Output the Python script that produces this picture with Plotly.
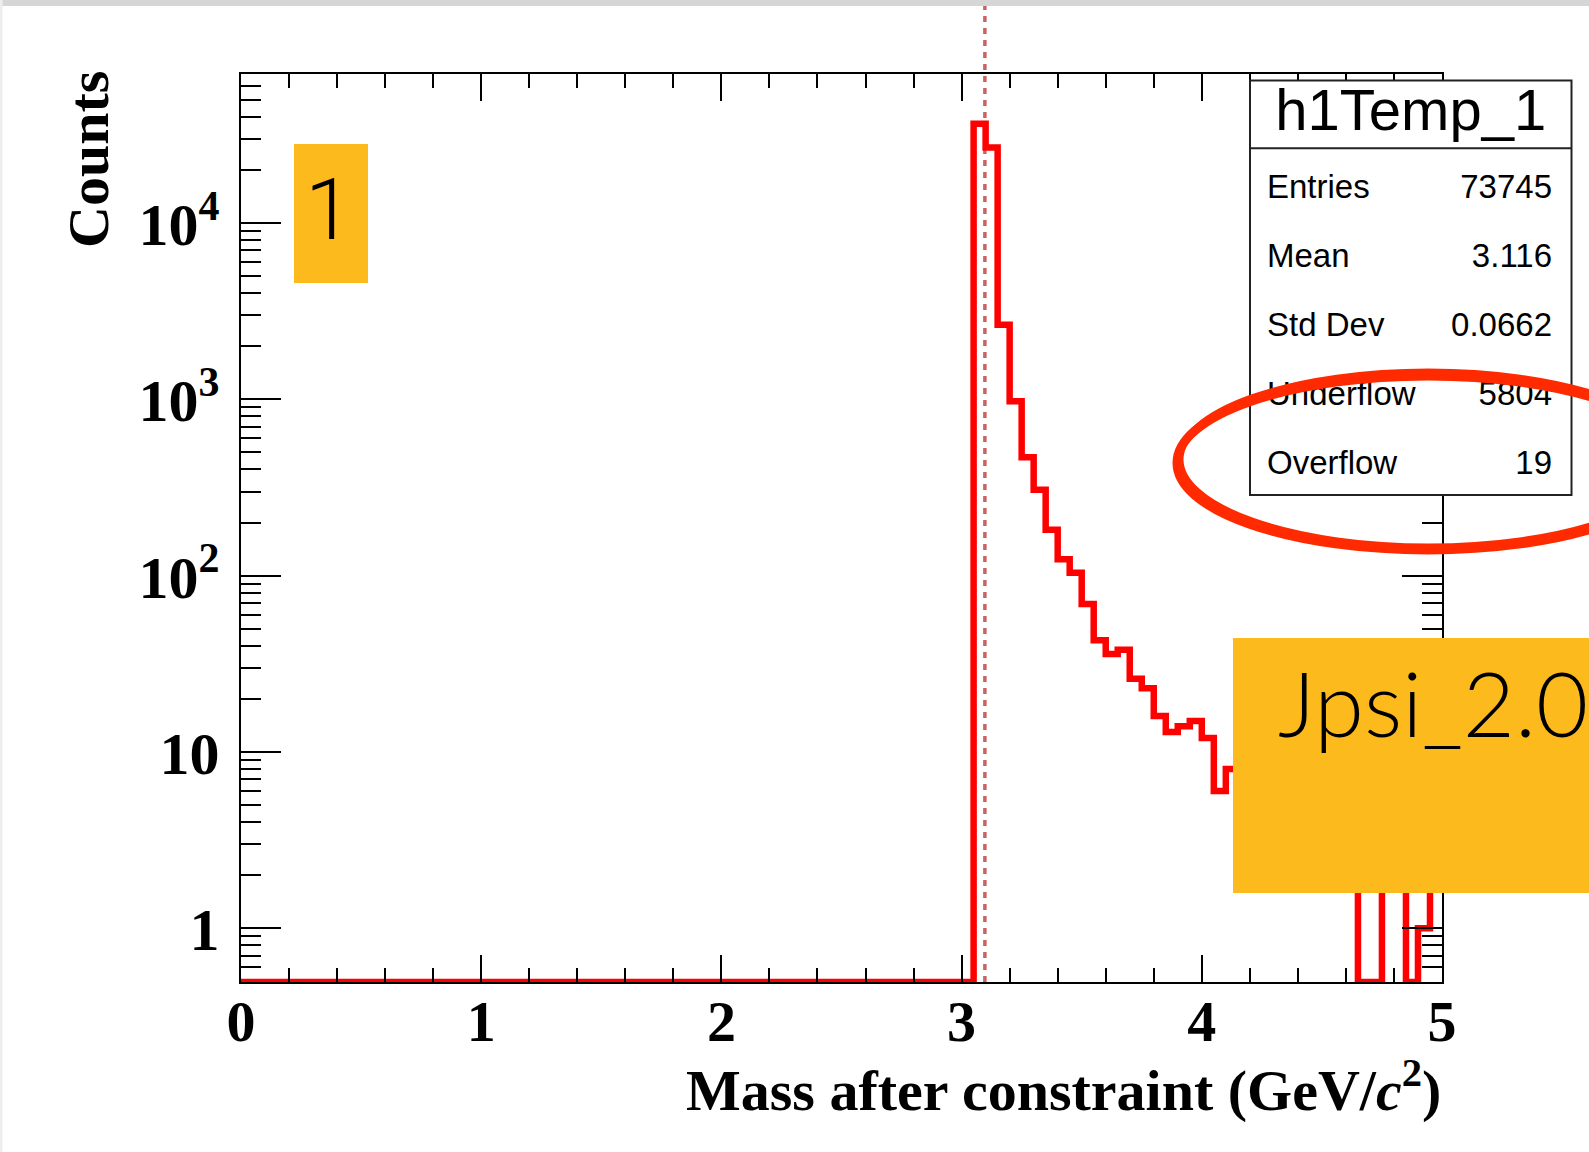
import numpy as np
import plotly.graph_objects as go

# ---------------------------------------------------------------- data
# Mass histogram: 100 bins of 0.05 GeV/c^2 between 0 and 5
mass_min, mass_max, n_bins = 0.0, 5.0, 100
counts = (
    [0] * 61
    + [36500, 26800, 2650, 975, 470, 307, 182, 124, 104, 69, 43,
       36, 38, 26, 23, 16, 13, 14, 15, 12, 6, 8]
    + [7, 5, 6, 4, 5, 3, 4, 3, 2, 3]
    + [0, 0, 2, 3, 0, 1, 2]
)
jpsi_mass = 3.0969  # reference marker (GeV/c^2)

stats_title = "h1Temp_1"
stats_names = ["Entries", "Mean", "Std Dev", "Underflow", "Overflow"]
stats_values = ["73745", "3.116", "0.0662", "5804", "19"]

tag_number = "1"
tag_name = "Jpsi_2.0"

x_title = "Mass after constraint (GeV/<i>c</i><sup>2</sup>)"
y_title = "Counts"

# ---------------------------------------------------------------- geometry
W, H = 1589, 1152
FRAME = dict(left=241, right=1442, top=74, bottom=982)
Y_LOG_RANGE = [-0.3046, 4.845]


def px(x):
    return x / W


def py(y):
    return 1 - y / H


edges = np.linspace(mass_min, mass_max, n_bins + 1)
floor = 10 ** Y_LOG_RANGE[0]  # empty bins sit on the bottom of the frame
drawn = [c if c > 0 else floor for c in counts]
step_x = list(edges)
step_y = drawn + [drawn[-1]]

fig = go.Figure()
fig.add_trace(go.Scatter(
    x=step_x, y=step_y, mode="lines",
    line=dict(color="#FF0000", width=6.5, shape="hv"),
    hoverinfo="skip",
))

serif_bold = dict(family="Liberation Serif", size=58, color="black", weight="bold")
serif_bold_y = dict(family="Liberation Serif", size=48, color="black", weight="bold")

fig.update_layout(
    width=W, height=H,
    margin=dict(l=0, r=0, t=0, b=0, autoexpand=False),
    paper_bgcolor="white", plot_bgcolor="white",
    showlegend=False,
    xaxis=dict(
        domain=[px(FRAME["left"]), px(FRAME["right"])],
        range=[mass_min, mass_max], tick0=0, dtick=1,
        ticks="inside", ticklen=27, tickwidth=2, tickcolor="black",
        showline=True, linecolor="black", linewidth=2, mirror="ticks",
        showgrid=False, zeroline=False, automargin=False,
        minor=dict(dtick=0.2, ticks="inside", ticklen=14, tickwidth=2,
                   tickcolor="black", showgrid=False),
        tickfont=serif_bold, ticklabelstandoff=-13,
    ),
    yaxis=dict(
        type="log",
        domain=[py(FRAME["bottom"]), py(FRAME["top"])],
        range=Y_LOG_RANGE, dtick=1, exponentformat="power",
        ticks="inside", ticklen=40, tickwidth=2, tickcolor="black",
        showline=True, linecolor="black", linewidth=2, mirror="ticks",
        showgrid=False, zeroline=False, automargin=False,
        minor=dict(dtick="D1", ticks="inside", ticklen=20, tickwidth=2,
                   tickcolor="black", showgrid=False),
        tickfont=serif_bold_y, ticklabelstandoff=10, ticklabelshift=1,
    ),
)

shapes = []

# dotted reference line at the J/psi mass, running up past the frame
shapes.append(dict(
    type="line", xref="x", yref="paper",
    x0=jpsi_mass, x1=jpsi_mass, y0=py(FRAME["bottom"]), y1=1.0,
    line=dict(color="#C86464", width=3.5, dash="6px,6px"), layer="below",
))

# yellow tags
amber = "#FDBA1C"
shapes.append(dict(type="rect", xref="paper", yref="paper",
                   x0=px(294), x1=px(368), y0=py(283), y1=py(144),
                   fillcolor=amber, line=dict(width=0), layer="above"))
shapes.append(dict(type="rect", xref="paper", yref="paper",
                   x0=px(1233), x1=px(1600), y0=py(893), y1=py(638),
                   fillcolor=amber, line=dict(width=0), layer="above"))

# statistics box
box_l, box_r, box_t, box_b, box_sep = 1250, 1571.5, 80.5, 495, 148.3
shapes.append(dict(type="rect", xref="paper", yref="paper",
                   x0=px(box_l), x1=px(box_r), y0=py(box_b), y1=py(box_t),
                   fillcolor="white", line=dict(color="#222222", width=2),
                   layer="above"))
shapes.append(dict(type="line", xref="paper", yref="paper",
                   x0=px(box_l), x1=px(box_r), y0=py(box_sep), y1=py(box_sep),
                   line=dict(color="#222222", width=2), layer="above"))


def text_cell(x0, x1, yc, text, pos, size):
    return dict(
        type="rect", xref="paper", yref="paper",
        x0=px(x0), x1=px(x1), y0=py(yc + 25), y1=py(yc - 25),
        line=dict(width=0), fillcolor="rgba(0,0,0,0)", layer="above",
        label=dict(text=text, textposition=pos, padding=0,
                   font=dict(family="Liberation Sans", size=size, color="black")),
    )


shapes.append(text_cell(box_l, box_r, 104, stats_title, "middle center", 58))
row_y0, row_dy = 183.5, 68.9
for i, (name, val) in enumerate(zip(stats_names, stats_values)):
    yc = row_y0 + i * row_dy
    shapes.append(text_cell(1264, 1555, yc, name, "middle left", 33))
    shapes.append(text_cell(1264, 1555, yc, val, "middle right", 33))

# hand-drawn red loop around the under/overflow rows
loop_red = "#FF2A00"
shapes.append(dict(type="circle", xref="paper", yref="paper",
                   x0=px(1177), x1=px(1679), y0=py(550), y1=py(376),
                   line=dict(color=loop_red, width=9), layer="above"))
shapes.append(dict(type="circle", xref="paper", yref="paper",
                   x0=px(1180), x1=px(1677), y0=py(547), y1=py(372),
                   line=dict(color=loop_red, width=7), layer="above"))

# faint strips along the top and left edges
shapes.append(dict(type="rect", xref="paper", yref="paper",
                   x0=0, x1=1, y0=py(6), y1=1,
                   fillcolor="#D6D6D6", line=dict(width=0), layer="above"))
shapes.append(dict(type="rect", xref="paper", yref="paper",
                   x0=0, x1=px(2.5), y0=0, y1=1,
                   fillcolor="#EDEDED", line=dict(width=0), layer="above"))

fig.update_layout(shapes=shapes)

annotations = [
    dict(text=x_title, xref="paper", yref="paper",
         x=px(1443), y=py(1086), xanchor="right", yanchor="middle",
         showarrow=False, font=serif_bold),
    dict(text=y_title, xref="paper", yref="paper",
         x=px(89), y=py(160), xanchor="center", yanchor="middle",
         textangle=-90, showarrow=False, font=serif_bold),
    dict(text=tag_number, xref="paper", yref="paper",
         x=px(329), y=py(209), xanchor="center", yanchor="middle",
         showarrow=False,
         font=dict(family="Roboto", size=86, color="black", weight=300)),
    dict(text=tag_name, xref="paper", yref="paper",
         x=px(1276), y=py(702), xanchor="left", yanchor="middle",
         showarrow=False,
         font=dict(family="Lato", size=90, color="black", weight=300)),
]
fig.update_layout(annotations=annotations)

fig.write_html("out.html")
